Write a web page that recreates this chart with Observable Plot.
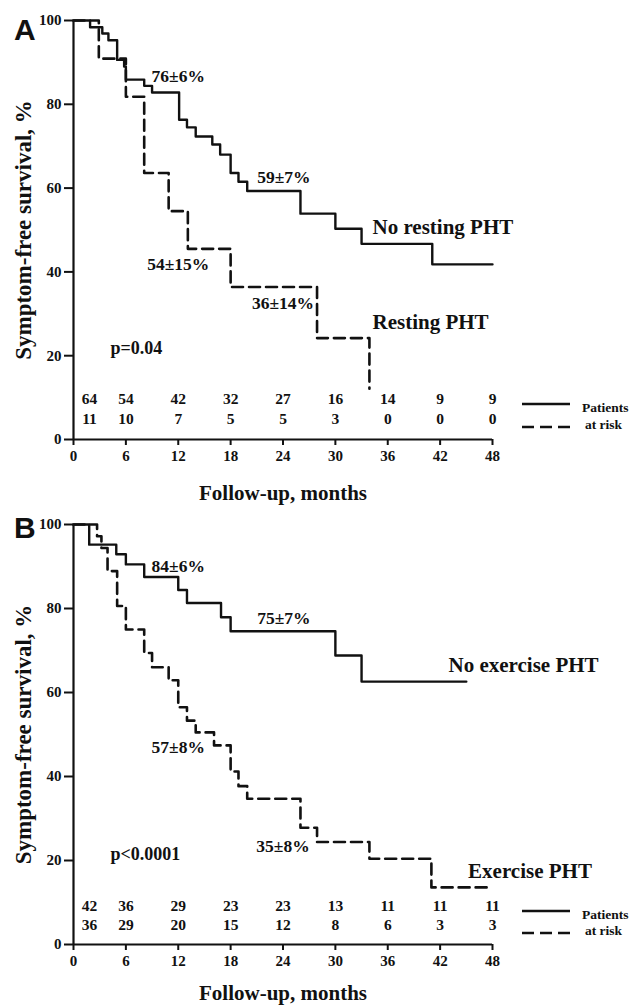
<!DOCTYPE html>
<html><head><meta charset="utf-8">
<script src="https://cdn.jsdelivr.net/npm/d3@7"></script>
<script src="https://cdn.jsdelivr.net/npm/@observablehq/plot@0.6"></script>
<style>
body{margin:0;background:#fff;}
#root{position:relative;width:630px;height:1005px;overflow:hidden;}
#root > svg{position:absolute;left:0;}
</style></head><body><div id="root"></div>
<script>
// ---------------- data ----------------
const tickMonths = [0, 6, 12, 18, 24, 30, 36, 42, 48];
const tickPercent = [0, 20, 40, 60, 80, 100];

// Panel A: No resting PHT (solid)
const noRestT = [0, 1.9, 3.3, 4.0, 5.0, 5.8, 6.0, 8.1, 9.0, 12.1, 13.0, 14.0, 15.9, 16.8, 18.0, 18.9, 19.9, 26.0, 30.0, 33.0, 41.1, 48.0];
const noRestS = [100, 98.4, 96.9, 95.3, 90.6, 89.0, 85.9, 84.4, 82.8, 76.3, 74.5, 72.3, 70.4, 68.0, 63.6, 61.5, 59.3, 53.9, 50.3, 46.7, 41.8, 41.8];
// Panel A: Resting PHT (dashed)
const restT = [0, 2.9, 6.0, 8.1, 10.9, 13.1, 18.0, 27.9, 33.9];
const restS = [100, 90.9, 81.8, 63.6, 54.5, 45.5, 36.4, 24.2, 12.1];

// Panel B: No exercise PHT (solid)
const noExT = [0, 1.8, 4.9, 6.0, 8.1, 12.0, 13.0, 16.9, 18.0, 30.0, 33.0, 45.0];
const noExS = [100, 95.2, 92.9, 90.5, 87.5, 84.4, 81.3, 77.9, 74.6, 68.8, 62.6, 62.6];
// Panel B: Exercise PHT (dashed)
const exT = [0, 2.7, 3.2, 3.9, 5.0, 6.0, 8.1, 9.0, 10.9, 12.0, 13.0, 14.0, 16.1, 18.0, 18.9, 19.9, 26.0, 27.9, 33.9, 41.0, 48.0];
const exS = [100, 97.2, 94.4, 88.9, 80.6, 75.0, 69.4, 66.0, 62.9, 56.5, 53.3, 50.5, 47.4, 41.2, 37.7, 34.7, 27.8, 24.4, 20.4, 13.6, 13.6];

// Patients at risk
const riskMonths = [0, 6, 12, 18, 24, 30, 36, 42, 48];
const riskNoRest = [64, 54, 42, 32, 27, 16, 14, 9, 9];
const riskRest = [11, 10, 7, 5, 5, 3, 0, 0, 0];
const riskNoEx = [42, 36, 29, 23, 23, 13, 11, 11, 11];
const riskEx = [36, 29, 20, 15, 12, 8, 6, 3, 3];

// Annotations (survival estimates)
const estA = ["76±6%", "59±7%", "54±15%", "36±14%"];
const estB = ["84±6%", "75±7%", "57±8%", "35±8%"];
const namesA = ["No resting PHT", "Resting PHT"];
const namesB = ["No exercise PHT", "Exercise PHT"];
const pA = "p=0.04";
const pB = "p<0.0001";

// ---------------- layout (positions, in data units) ----------------
const layoutA = {
  top: 0, height: 500, marginTop: 20, marginBottom: 61,
  estX: [12, 24.1, 12, 24], estY: [86.6, 62.5, 41.8, 32.5],
  nameX: [34.25, 34.25], nameY: [50.6, 27.9],
  pX: 4.24, pY: 21.7,
  riskDy: [-36, -16],
  xLabelDy: 54,
  letter: "A", letterY: 40,
  legendY: [404, 427]
};
const layoutB = {
  top: 500, height: 505, marginTop: 24, marginBottom: 61,
  estX: [12, 24.1, 12, 24], estY: [90.0, 77.6, 46.9, 23.3],
  nameX: [42.96, 45.2], nameY: [66.4, 17.4],
  pX: 4.24, pY: 21.4,
  riskDy: [-34, -15],
  xLabelDy: 49,
  letter: "B", letterY: 538,
  legendY: [911, 933]
};

const FONT = "'Liberation Serif', 'Times New Roman', serif";
const DASH = "11,6";

function zipCurve(t, s) { return t.map((d, i) => ({t: d, s: s[i]})); }

function panel(L, solid, dashed, est, names, pText, riskTop, riskBottom) {
  const estData = est.map((e, i) => ({text: e, x: L.estX[i], y: L.estY[i]}));
  const nameData = names.map((e, i) => ({text: e, x: L.nameX[i], y: L.nameY[i]}));
  const riskRows = [riskTop, riskBottom];
  const riskMarks = [];
  riskRows.forEach((row, r) => {
    const data = riskMonths.map((m, i) => ({m, n: row[i]}));
    riskMarks.push(Plot.text(data.filter(d => d.m > 0), {x: "m", text: d => String(d.n), frameAnchor: "bottom", textAnchor: "middle", dy: L.riskDy[r], fontSize: 15.5, fontWeight: "bold", fill: "#111"}));
    riskMarks.push(Plot.text(data.filter(d => d.m === 0), {x: "m", text: d => String(d.n), frameAnchor: "bottom", textAnchor: "middle", dx: 16, dy: L.riskDy[r], fontSize: 15.5, fontWeight: "bold", fill: "#111"}));
  });
  return Plot.plot({
    width: 630, height: L.height,
    marginLeft: 73, marginRight: 138, marginTop: L.marginTop, marginBottom: L.marginBottom,
    x: {domain: [0, 48]},
    y: {domain: [0, 100]},
    style: {fontFamily: FONT, fontWeight: "bold", color: "#111", background: "transparent", overflow: "visible"},
    marks: [
      Plot.axisX({ticks: tickMonths, tickSize: 6, tickPadding: 5, fontSize: 15, label: null, strokeWidth: 2, tickFormat: d => String(d)}),
      Plot.axisY({ticks: tickPercent, tickSize: 9, tickPadding: 3, fontSize: 15, label: null, strokeWidth: 2, tickFormat: d => String(d)}),
      Plot.ruleY([0], {stroke: "#111", strokeWidth: 2.2}),
      Plot.ruleX([0], {stroke: "#111", strokeWidth: 2.2}),
      Plot.line(solid, {x: "t", y: "s", curve: "step-after", stroke: "#111", strokeWidth: 2.4}),
      Plot.line(dashed, {x: "t", y: "s", curve: "step-after", stroke: "#111", strokeWidth: 2.6, strokeDasharray: DASH}),
      Plot.text(estData, {x: "x", y: "y", text: "text", fontSize: 17.5, fontWeight: "bold", fill: "#111"}),
      Plot.text(nameData, {x: "x", y: "y", text: "text", textAnchor: "start", fontSize: 21, fontWeight: "bold", fill: "#111"}),
      Plot.text([pText], {x: () => L.pX, y: () => L.pY, text: d => d, textAnchor: "start", fontSize: 18, fontWeight: "bold", fill: "#111"}),
      ...riskMarks,
      Plot.text(["Symptom-free survival, %"], {frameAnchor: "left", textAnchor: "middle", lineAnchor: "middle", rotate: -90, dx: -50, fontSize: 23, fontWeight: "bold", fill: "#111"}),
      Plot.text(["Follow-up, months"], {frameAnchor: "bottom", textAnchor: "middle", lineAnchor: "middle", dy: L.xLabelDy, fontSize: 21, fontWeight: "bold", fill: "#111"})
    ]
  });
}

const root = document.getElementById("root");
const svgA = panel(layoutA, zipCurve(noRestT, noRestS), zipCurve(restT, restS), estA, namesA, pA, riskNoRest, riskRest);
svgA.style.top = layoutA.top + "px";
root.appendChild(svgA);
const svgB = panel(layoutB, zipCurve(noExT, noExS), zipCurve(exT, exS), estB, namesB, pB, riskNoEx, riskEx);
svgB.style.top = layoutB.top + "px";
root.appendChild(svgB);

// overlay: panel letters and "Patients at risk" legends
const ov = d3.select(root).append("svg")
  .attr("width", 630).attr("height", 1005)
  .style("top", "0px").style("pointer-events", "none");
[layoutA, layoutB].forEach(L => {
  ov.append("text").attr("x", 14).attr("y", L.letterY)
    .attr("font-family", "'Liberation Sans', Arial, sans-serif").attr("font-weight", "bold")
    .attr("font-size", 30).attr("fill", "#111").text(L.letter);
  ov.append("line").attr("x1", 522).attr("x2", 570).attr("y1", L.legendY[0]).attr("y2", L.legendY[0])
    .attr("stroke", "#111").attr("stroke-width", 2.4);
  ov.append("line").attr("x1", 522).attr("x2", 570).attr("y1", L.legendY[1]).attr("y2", L.legendY[1])
    .attr("stroke", "#111").attr("stroke-width", 2.4).attr("stroke-dasharray", "12,6");
  ov.append("text").attr("x", 582).attr("y", L.legendY[0] + 8)
    .attr("font-family", FONT).attr("font-weight", "bold").attr("font-size", 13.5).attr("fill", "#111").text("Patients");
  ov.append("text").attr("x", 585).attr("y", L.legendY[1] + 2)
    .attr("font-family", FONT).attr("font-weight", "bold").attr("font-size", 13.5).attr("fill", "#111").text("at risk");
});
</script></body></html>
